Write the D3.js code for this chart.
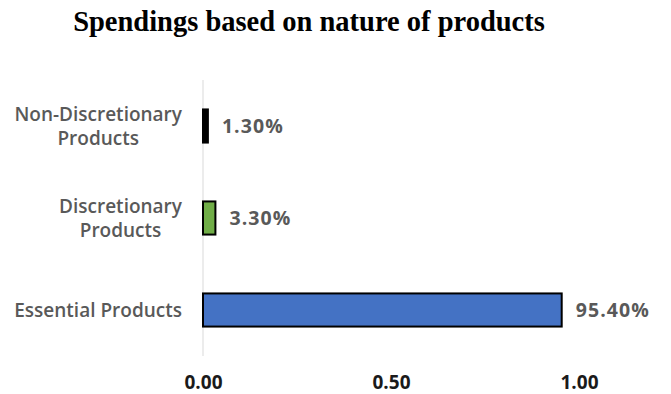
<!DOCTYPE html>
<html><head><meta charset="utf-8">
<script src="https://cdn.jsdelivr.net/npm/d3@7"></script>
<style>html,body{margin:0;padding:0;background:#fff;}</style>
</head><body>
<svg id="chart" width="671" height="394"></svg>
<script>
const categories = ["Non-Discretionary Products", "Discretionary Products", "Essential Products"];
const categoryLines = [["Non-Discretionary", "Products"], ["Discretionary", "Products"], ["Essential Products"]];
const values = [0.013, 0.033, 0.954];
const valueLabels = ["1.30%", "3.30%", "95.40%"];
const barColors = ["#000000", "#70AD47", "#4472C4"];
const tickValues = [0, 0.5, 1.0];
const title = "Spendings based on nature of products";

const svg = d3.select("#chart");
const x = d3.scaleLinear().domain([0, 1]).range([203, 579]);
const y = d3.scaleBand().domain(categories).range([80, 356]).paddingInner(0.64).paddingOuter(0.32);

svg.append("text").attr("x", 309).attr("y", 31).attr("text-anchor", "middle")
  .style("font-family", "'Liberation Serif', serif").style("font-weight", "bold").style("font-size", "28.5px")
  .attr("fill", "#000").text(title);

// category axis line
svg.append("line").attr("x1", x(0)).attr("x2", x(0)).attr("y1", 80).attr("y2", 356)
  .attr("stroke", "#d9d9d9").attr("stroke-width", 1);

svg.selectAll("rect.bar").data(categories).join("rect").attr("class", "bar")
  .attr("x", x(0)).attr("y", d => y(d)).attr("width", (d, i) => x(values[i]) - x(0)).attr("height", y.bandwidth())
  .attr("fill", (d, i) => barColors[i]).attr("stroke", "#000").attr("stroke-width", 2);

svg.selectAll("text.val").data(categories).join("text").attr("class", "val")
  .attr("x", (d, i) => x(values[i]) + 14).attr("y", d => y(d) + y.bandwidth() / 2 + 0.5).attr("dy", "0.35em")
  .style("font-family", "'Open Sans', sans-serif").style("font-weight", "bold").style("font-size", "19.5px")
  .style("letter-spacing", "1.1px")
  .attr("fill", "#595959").text((d, i) => valueLabels[i]);

const cat = svg.selectAll("text.cat").data(categories).join("text").attr("class", "cat")
  .attr("text-anchor", "middle")
  .style("font-family", "'Open Sans', sans-serif").style("font-weight", "600").style("font-size", "19px").attr("fill", "#595959");
cat.each(function(d, i) {
  const lines = categoryLines[i];
  const cy = y(d) + y.bandwidth() / 2;
  const t = d3.select(this);
  const spans = lines.map((l, j) =>
    t.append("tspan").attr("y", cy + (j - (lines.length - 1) / 2) * 24).attr("dy", "0.35em").text(l));
  const maxW = d3.max(spans, s => s.node().getComputedTextLength());
  spans.forEach(s => s.attr("x", 182 - maxW / 2));
});

const axis = d3.axisBottom(x).tickValues(tickValues).tickFormat(d3.format(".2f")).tickSize(0);
const g = svg.append("g").attr("transform", "translate(0,375)").call(axis);
g.select(".domain").remove();
g.selectAll("text").style("font-family", "'Open Sans', sans-serif").style("font-weight", "bold")
  .style("font-size", "19px").attr("fill", "#1a1a1a").attr("y", 7).attr("dy", "0.35em");
</script>
</body></html>
